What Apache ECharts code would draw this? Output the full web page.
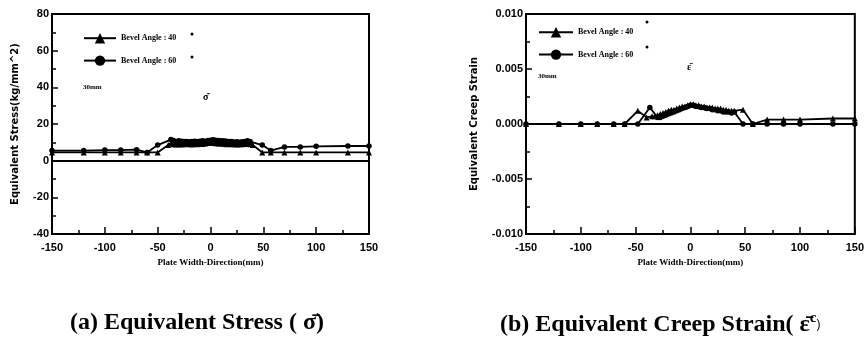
<!DOCTYPE html>
<html>
<head>
<meta charset="utf-8">
<script src="https://cdn.jsdelivr.net/npm/echarts@6/dist/echarts.min.js"></script>
<style>
  html, body { margin: 0; padding: 0; background: #fff; }
  #chart { width: 867px; height: 345px; }
</style>
</head>
<body>
<div id="chart"></div>
<script>
// x positions (mm) of the markers
var xStress40 = [-150, -120, -100, -85, -70, -60, -50, -40,
    -37.5, -35, -32.5, -30, -27.5, -25, -22.5, -20, -17.5, -15, -12.5, -10, -7.5, -5, -2.5, 0,
    2.5, 5, 7.5, 10, 12.5, 15, 17.5, 20, 22.5, 25, 27.5, 30, 32.5, 35, 37.5,
    40, 49, 57, 70, 85, 100, 130, 150];
var stress40 = [4.5, 4.5, 4.5, 4.5, 4.5, 4.5, 4.5, 8.5,
    9.5, 9, 8.8, 9, 8.8, 9.2, 8.9, 9.1, 8.8, 9.2, 9, 9.3, 9.1, 9.4, 9.6, 9.8,
    9.6, 9.5, 9.3, 9.4, 9.2, 9, 9.1, 8.9, 9, 8.8, 9, 8.9, 9.1, 9.3, 9,
    8.5, 4.5, 4.5, 4.5, 4.5, 4.5, 4.5, 4.5];

var xStress60 = [-150, -120, -100, -85, -70, -60, -50,
    -37.5, -35, -32.5, -30, -27.5, -25, -22.5, -20, -17.5, -15, -12.5, -10, -7.5, -5, -2.5, 0,
    2.5, 5, 7.5, 10, 12.5, 15, 17.5, 20, 22.5, 25, 27.5, 30, 32.5, 35, 37.5,
    49, 57, 70, 85, 100, 130, 150];
var stress60 = [5.5, 5.5, 5.8, 5.8, 6, 4.5, 8.5,
    11.5, 11, 10.5, 10.8, 10.6, 10.4, 10.5, 10.3, 10.5, 10.6, 10.4, 10.6, 10.8, 10.6, 11, 11.2,
    11.4, 11.2, 11, 10.8, 10.9, 10.6, 10.5, 10.4, 10.2, 10.3, 10.1, 10.3, 10.5, 10.8, 10.4,
    8.5, 5.5, 7.5, 7.5, 7.8, 8, 8];

var xStrain40 = [-150, -120, -100, -85, -70, -60, -48, -40, -35,
    -32.5, -30, -27.5, -25, -22.5, -20, -17.5, -15, -12.5, -10, -7.5, -5, -2.5, 0,
    2.5, 5, 7.5, 10, 12.5, 15, 17.5, 20, 22.5, 25, 27.5, 30, 32.5, 35, 37.5, 40,
    48, 57, 70, 85, 100, 130, 150];
var strain40 = [0, 0, 0, 0, 0, 0, 0.0012, 0.0006, 0.0007,
    0.0007, 0.0008, 0.0009, 0.0010, 0.0011, 0.0012, 0.0013, 0.0013, 0.0014, 0.0015, 0.0016, 0.0016, 0.0017, 0.0018,
    0.0018, 0.0017, 0.0017, 0.0016, 0.0016, 0.0015, 0.0015, 0.0015, 0.0014, 0.0014, 0.0014, 0.0013, 0.0013, 0.0012, 0.0012, 0.0012,
    0.0013, 0, 0.0004, 0.0004, 0.0004, 0.0005, 0.0005];

var xStrain60 = [-150, -120, -100, -85, -70, -60, -48, -37, -30,
    -27.5, -25, -22.5, -20, -17.5, -15, -12.5, -10, -7.5, -5, -2.5, 0,
    2.5, 5, 7.5, 10, 12.5, 15, 17.5, 20, 22.5, 25, 27.5, 30, 32.5, 35, 37.5, 40,
    48, 57, 70, 85, 100, 130, 150];
var strain60 = [0, 0, 0, 0, 0, 0, 0, 0.0015, 0.0006,
    0.0006, 0.0007, 0.0008, 0.0009, 0.0010, 0.0011, 0.0012, 0.0013, 0.0014, 0.0015, 0.0016, 0.0017,
    0.0017, 0.0016, 0.0016, 0.0015, 0.0015, 0.0014, 0.0014, 0.0013, 0.0013, 0.0012, 0.0012, 0.0011, 0.0011, 0.0011, 0.0010, 0.0011,
    0, 0, 0, 0, 0, 0, 0];

var xTicks = [-150, -100, -50, 0, 50, 100, 150];
var stressTicks = [-40, -20, 0, 20, 40, 60, 80];
var strainTicks = [-0.010, -0.005, 0.000, 0.005, 0.010];

var legendNames = ['Bevel Angle : 40', 'Bevel Angle : 60'];

function pairs(xs, ys) {
    var out = [];
    for (var i = 0; i < xs.length; i++) out.push([xs[i], ys[i]]);
    return out;
}

var tickFont = { color: '#000', fontFamily: 'Liberation Sans', fontWeight: 'bold', fontSize: 11 };

function xAxisFor(gridIndex) {
    return {
        type: 'value', gridIndex: gridIndex,
        min: xTicks[0], max: xTicks[xTicks.length - 1], interval: 50,
        name: 'Plate Width-Direction(mm)', nameLocation: 'middle', nameGap: 24,
        nameTextStyle: { color: '#000', fontFamily: 'Liberation Serif', fontWeight: 'bold', fontSize: 9 },
        axisLine: { onZero: false, lineStyle: { color: '#000', width: 2 } },
        axisTick: { inside: true, length: 7, lineStyle: { color: '#000', width: 1.5 } },
        minorTick: { show: true, splitNumber: 2, length: 4, lineStyle: { color: '#000', width: 1.5 } },
        axisLabel: Object.assign({ margin: 8 }, tickFont),
        splitLine: { show: false }
    };
}

function yAxisFor(gridIndex, ticks, name, gap, fmt) {
    return {
        type: 'value', gridIndex: gridIndex,
        min: ticks[0], max: ticks[ticks.length - 1], interval: ticks[1] - ticks[0],
        name: name, nameLocation: 'middle', nameGap: gap,
        nameTextStyle: { color: '#000', fontFamily: 'DejaVu Sans', fontWeight: 'bold', fontSize: 10 },
        axisLine: { onZero: false, lineStyle: { color: '#000', width: 2 } },
        axisTick: { inside: true, length: 6, lineStyle: { color: '#000', width: 1.5 } },
        minorTick: { show: true, splitNumber: 2, length: 4, lineStyle: { color: '#000', width: 1.5 } },
        axisLabel: Object.assign({ margin: 3, formatter: fmt }, tickFont),
        splitLine: { show: false }
    };
}

function lineSeries(name, idx, data, symbol, size) {
    return {
        name: name, type: 'line', xAxisIndex: idx, yAxisIndex: idx,
        data: data, symbol: symbol, symbolSize: size,
        itemStyle: { color: '#000' },
        lineStyle: { color: '#000', width: 1.8 }
    };
}

var zeroLine = {
    silent: true, symbol: 'none', label: { show: false },
    lineStyle: { color: '#000', width: 2, type: 'solid' },
    data: [{ yAxis: 0 }]
};

var s1 = lineSeries(legendNames[0], 0, pairs(xStress40, stress40), 'triangle', 6);
s1.markLine = zeroLine;
var s2 = lineSeries(legendNames[1], 0, pairs(xStress60, stress60), 'circle', 5.5);
var s3 = lineSeries(legendNames[0], 1, pairs(xStrain40, strain40), 'triangle', 6);
s3.markLine = zeroLine;
var s4 = lineSeries(legendNames[1], 1, pairs(xStrain60, strain60), 'circle', 5.5);

var legendText = { color: '#000', fontFamily: 'Liberation Serif', fontWeight: 'bold', fontSize: 8 };
var smallText = { fill: '#000', font: 'bold 7px "Liberation Serif"' };

var myChart = echarts.init(document.getElementById('chart'));

option = {
    animation: false,
    backgroundColor: '#fff',
    grid: [
        { left: 52, top: 14, width: 317, height: 220, show: true, borderColor: '#000', borderWidth: 2 },
        { left: 526, top: 14, width: 329, height: 220, show: true, borderColor: '#000', borderWidth: 2 }
    ],
    legend: [
        { data: legendNames, orient: 'vertical', left: 78, top: 28, itemWidth: 32, itemHeight: 13, itemGap: 12, textStyle: legendText },
        { data: legendNames, orient: 'vertical', left: 533, top: 22, itemWidth: 34, itemHeight: 13, itemGap: 12, textStyle: legendText }
    ],
    xAxis: [xAxisFor(0), xAxisFor(1)],
    yAxis: [
        yAxisFor(0, stressTicks, 'Equivalent Stress(kg/mm^2)', 32, function (v) { return String(v); }),
        yAxisFor(1, strainTicks, 'Equivalent Creep Strain', 47, function (v) { return v.toFixed(3); })
    ],
    series: [s1, s2, s3, s4],
    graphic: [
        { type: 'circle', shape: { cx: 192, cy: 34, r: 1.5 }, style: { fill: '#000' } },
        { type: 'circle', shape: { cx: 192, cy: 57, r: 1.5 }, style: { fill: '#000' } },
        { type: 'circle', shape: { cx: 647, cy: 22, r: 1.5 }, style: { fill: '#000' } },
        { type: 'circle', shape: { cx: 647, cy: 47, r: 1.5 }, style: { fill: '#000' } },
        { type: 'text', left: 83, top: 84, style: Object.assign({ text: '30mm' }, smallText) },
        { type: 'text', left: 538, top: 73, style: Object.assign({ text: '30mm' }, smallText) },
        { type: 'text', left: 203, top: 92, style: { text: 'σ̄', fill: '#000', font: 'bold 10px "Liberation Serif"' } },
        { type: 'text', left: 687, top: 62, style: { text: 'ε̄', fill: '#000', font: 'bold 10px "Liberation Serif"' } },
        { type: 'text', left: 70, top: 311, style: { text: '(a) Equivalent Stress ( σ̄)', fill: '#000', font: 'bold 24px "Liberation Serif"' } },
        { type: 'text', left: 500, top: 311, style: {
            text: '{m|(b) Equivalent Creep Strain( ε̄}{s|c})',
            rich: {
                m: { fill: '#000', font: 'bold 24px "Liberation Serif"' },
                s: { fill: '#000', font: 'bold 15px "Liberation Serif"', verticalAlign: 'top', padding: [0, 0, 12, 0] }
            }
        } }
    ]
};

myChart.setOption(option);
</script>
</body>
</html>
